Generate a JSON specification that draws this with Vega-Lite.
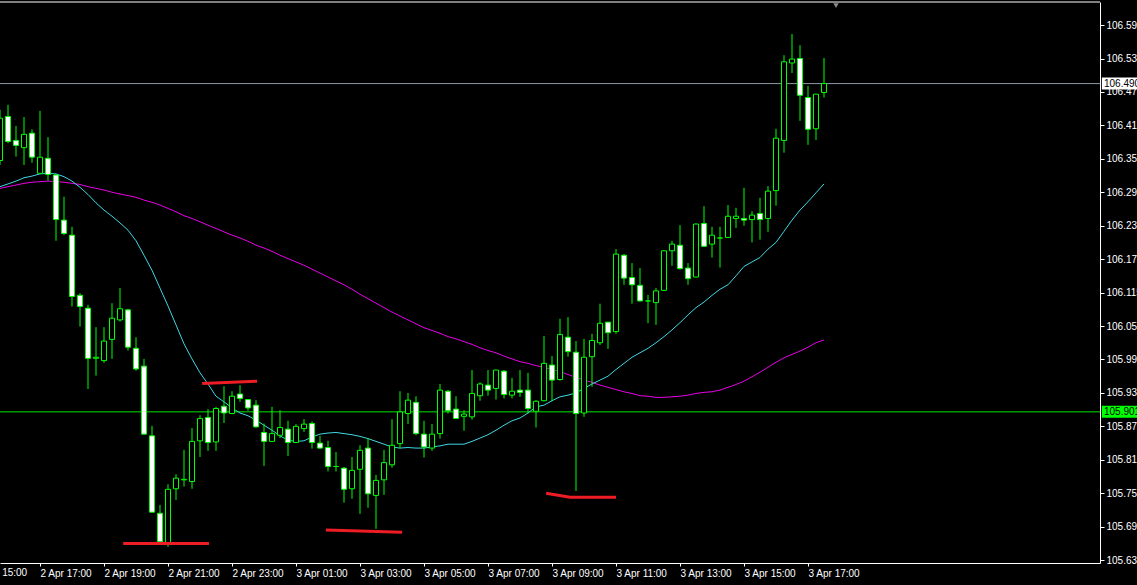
{
  "$schema": "https://vega.github.io/schema/vega-lite/v6.json",
  "width": 1100,
  "height": 561,
  "autosize": {"type": "none"},
  "padding": {"left": 0, "top": 2, "right": 37, "bottom": 22},
  "background": "#000000",
  "config": {"view": {"stroke": null}, "font": "Liberation Sans", "scale": {"continuousPadding": 0}},
  "resolve": {"axis": {"x": "independent", "y": "independent"}},
  "datasets": {
    "candles": [
      {"t":"2024-04-02T15:45","o":106.352,"h":106.443,"l":106.344,"c":106.428,"f":106.305,"s":106.302},
      {"t":"2024-04-02T16:00","o":106.431,"h":106.452,"l":106.383,"c":106.386,"f":106.310,"s":106.305},
      {"t":"2024-04-02T16:15","o":106.388,"h":106.414,"l":106.359,"c":106.379,"f":106.315,"s":106.308},
      {"t":"2024-04-02T16:30","o":106.375,"h":106.430,"l":106.344,"c":106.399,"f":106.321,"s":106.311},
      {"t":"2024-04-02T16:45","o":106.401,"h":106.408,"l":106.348,"c":106.358,"f":106.324,"s":106.313},
      {"t":"2024-04-02T17:00","o":106.329,"h":106.441,"l":106.329,"c":106.358,"f":106.328,"s":106.314},
      {"t":"2024-04-02T17:15","o":106.356,"h":106.394,"l":106.316,"c":106.327,"f":106.329,"s":106.315},
      {"t":"2024-04-02T17:30","o":106.326,"h":106.328,"l":106.208,"c":106.246,"f":106.328,"s":106.314},
      {"t":"2024-04-02T17:45","o":106.245,"h":106.287,"l":106.218,"c":106.221,"f":106.323,"s":106.313},
      {"t":"2024-04-02T18:00","o":106.218,"h":106.233,"l":106.090,"c":106.108,"f":106.315,"s":106.311},
      {"t":"2024-04-02T18:15","o":106.110,"h":106.114,"l":106.054,"c":106.090,"f":106.304,"s":106.309},
      {"t":"2024-04-02T18:30","o":106.087,"h":106.093,"l":105.942,"c":105.997,"f":106.291,"s":106.305},
      {"t":"2024-04-02T18:45","o":105.997,"h":106.053,"l":105.966,"c":105.999,"f":106.276,"s":106.302},
      {"t":"2024-04-02T19:00","o":105.993,"h":106.053,"l":105.989,"c":106.028,"f":106.263,"s":106.299},
      {"t":"2024-04-02T19:15","o":106.031,"h":106.096,"l":105.996,"c":106.069,"f":106.252,"s":106.295},
      {"t":"2024-04-02T19:30","o":106.066,"h":106.123,"l":106.063,"c":106.086,"f":106.240,"s":106.292},
      {"t":"2024-04-02T19:45","o":106.084,"h":106.086,"l":106.011,"c":106.017,"f":106.227,"s":106.289},
      {"t":"2024-04-02T20:00","o":106.015,"h":106.035,"l":105.975,"c":105.978,"f":106.208,"s":106.286},
      {"t":"2024-04-02T20:15","o":105.983,"h":105.996,"l":105.860,"c":105.861,"f":106.182,"s":106.281},
      {"t":"2024-04-02T20:30","o":105.858,"h":105.876,"l":105.720,"c":105.721,"f":106.155,"s":106.277},
      {"t":"2024-04-02T20:45","o":105.719,"h":105.734,"l":105.667,"c":105.668,"f":106.123,"s":106.272},
      {"t":"2024-04-02T21:00","o":105.666,"h":105.771,"l":105.659,"c":105.762,"f":106.091,"s":106.266},
      {"t":"2024-04-02T21:15","o":105.763,"h":105.789,"l":105.743,"c":105.782,"f":106.057,"s":106.260},
      {"t":"2024-04-02T21:30","o":105.779,"h":105.833,"l":105.767,"c":105.780,"f":106.023,"s":106.253},
      {"t":"2024-04-02T21:45","o":105.776,"h":105.872,"l":105.763,"c":105.848,"f":105.996,"s":106.248},
      {"t":"2024-04-02T22:00","o":105.849,"h":105.895,"l":105.820,"c":105.889,"f":105.971,"s":106.242},
      {"t":"2024-04-02T22:15","o":105.891,"h":105.906,"l":105.831,"c":105.846,"f":105.951,"s":106.236},
      {"t":"2024-04-02T22:30","o":105.847,"h":105.910,"l":105.831,"c":105.907,"f":105.929,"s":106.230},
      {"t":"2024-04-02T22:45","o":105.911,"h":105.947,"l":105.881,"c":105.899,"f":105.919,"s":106.224},
      {"t":"2024-04-02T23:00","o":105.898,"h":105.938,"l":105.897,"c":105.929,"f":105.908,"s":106.218},
      {"t":"2024-04-02T23:15","o":105.933,"h":105.949,"l":105.919,"c":105.925,"f":105.899,"s":106.213},
      {"t":"2024-04-02T23:30","o":105.923,"h":105.924,"l":105.903,"c":105.908,"f":105.894,"s":106.207},
      {"t":"2024-04-02T23:45","o":105.913,"h":105.922,"l":105.873,"c":105.874,"f":105.886,"s":106.200},
      {"t":"2024-04-03T00:00","o":105.864,"h":105.880,"l":105.804,"c":105.848,"f":105.877,"s":106.195},
      {"t":"2024-04-03T00:15","o":105.848,"h":105.910,"l":105.847,"c":105.862,"f":105.868,"s":106.189},
      {"t":"2024-04-03T00:30","o":105.859,"h":105.904,"l":105.854,"c":105.873,"f":105.858,"s":106.182},
      {"t":"2024-04-03T00:45","o":105.870,"h":105.885,"l":105.822,"c":105.846,"f":105.850,"s":106.176},
      {"t":"2024-04-03T01:00","o":105.846,"h":105.879,"l":105.845,"c":105.875,"f":105.848,"s":106.170},
      {"t":"2024-04-03T01:15","o":105.871,"h":105.888,"l":105.865,"c":105.879,"f":105.849,"s":106.164},
      {"t":"2024-04-03T01:30","o":105.880,"h":105.884,"l":105.835,"c":105.846,"f":105.856,"s":106.157},
      {"t":"2024-04-03T01:45","o":105.845,"h":105.858,"l":105.835,"c":105.836,"f":105.861,"s":106.150},
      {"t":"2024-04-03T02:00","o":105.837,"h":105.849,"l":105.794,"c":105.803,"f":105.863,"s":106.143},
      {"t":"2024-04-03T02:15","o":105.803,"h":105.829,"l":105.794,"c":105.803,"f":105.864,"s":106.136},
      {"t":"2024-04-03T02:30","o":105.800,"h":105.802,"l":105.738,"c":105.762,"f":105.862,"s":106.129},
      {"t":"2024-04-03T02:45","o":105.763,"h":105.820,"l":105.745,"c":105.796,"f":105.860,"s":106.121},
      {"t":"2024-04-03T03:00","o":105.798,"h":105.841,"l":105.718,"c":105.832,"f":105.857,"s":106.112},
      {"t":"2024-04-03T03:15","o":105.836,"h":105.854,"l":105.729,"c":105.754,"f":105.853,"s":106.104},
      {"t":"2024-04-03T03:30","o":105.751,"h":105.788,"l":105.691,"c":105.778,"f":105.848,"s":106.096},
      {"t":"2024-04-03T03:45","o":105.779,"h":105.833,"l":105.752,"c":105.810,"f":105.843,"s":106.088},
      {"t":"2024-04-03T04:00","o":105.806,"h":105.888,"l":105.801,"c":105.841,"f":105.838,"s":106.080},
      {"t":"2024-04-03T04:15","o":105.844,"h":105.938,"l":105.836,"c":105.901,"f":105.836,"s":106.073},
      {"t":"2024-04-03T04:30","o":105.898,"h":105.935,"l":105.879,"c":105.922,"f":105.837,"s":106.066},
      {"t":"2024-04-03T04:45","o":105.918,"h":105.929,"l":105.859,"c":105.862,"f":105.836,"s":106.059},
      {"t":"2024-04-03T05:00","o":105.861,"h":105.885,"l":105.819,"c":105.838,"f":105.836,"s":106.052},
      {"t":"2024-04-03T05:15","o":105.836,"h":105.879,"l":105.831,"c":105.861,"f":105.838,"s":106.047},
      {"t":"2024-04-03T05:30","o":105.862,"h":105.951,"l":105.853,"c":105.940,"f":105.840,"s":106.042},
      {"t":"2024-04-03T05:45","o":105.938,"h":105.940,"l":105.898,"c":105.903,"f":105.843,"s":106.036},
      {"t":"2024-04-03T06:00","o":105.906,"h":105.929,"l":105.888,"c":105.889,"f":105.843,"s":106.032},
      {"t":"2024-04-03T06:15","o":105.893,"h":105.904,"l":105.867,"c":105.897,"f":105.843,"s":106.027},
      {"t":"2024-04-03T06:30","o":105.892,"h":105.976,"l":105.887,"c":105.934,"f":105.848,"s":106.022},
      {"t":"2024-04-03T06:45","o":105.930,"h":105.954,"l":105.921,"c":105.951,"f":105.854,"s":106.016},
      {"t":"2024-04-03T07:00","o":105.949,"h":105.976,"l":105.930,"c":105.940,"f":105.860,"s":106.011},
      {"t":"2024-04-03T07:15","o":105.943,"h":105.976,"l":105.923,"c":105.976,"f":105.868,"s":106.007},
      {"t":"2024-04-03T07:30","o":105.974,"h":105.976,"l":105.925,"c":105.932,"f":105.877,"s":106.001},
      {"t":"2024-04-03T07:45","o":105.931,"h":105.962,"l":105.925,"c":105.938,"f":105.885,"s":105.996},
      {"t":"2024-04-03T08:00","o":105.940,"h":105.976,"l":105.928,"c":105.936,"f":105.890,"s":105.991},
      {"t":"2024-04-03T08:15","o":105.940,"h":105.971,"l":105.898,"c":105.907,"f":105.899,"s":105.988},
      {"t":"2024-04-03T08:30","o":105.902,"h":105.922,"l":105.873,"c":105.920,"f":105.910,"s":105.984},
      {"t":"2024-04-03T08:45","o":105.921,"h":106.037,"l":105.920,"c":105.988,"f":105.913,"s":105.981},
      {"t":"2024-04-03T09:00","o":105.985,"h":106.001,"l":105.920,"c":105.958,"f":105.921,"s":105.977},
      {"t":"2024-04-03T09:15","o":105.959,"h":106.068,"l":105.957,"c":106.040,"f":105.928,"s":105.973},
      {"t":"2024-04-03T09:30","o":106.035,"h":106.071,"l":106.000,"c":106.009,"f":105.931,"s":105.968},
      {"t":"2024-04-03T09:45","o":106.008,"h":106.028,"l":105.759,"c":105.898,"f":105.935,"s":105.963},
      {"t":"2024-04-03T10:00","o":105.899,"h":106.032,"l":105.892,"c":105.999,"f":105.943,"s":105.958},
      {"t":"2024-04-03T10:15","o":106.000,"h":106.041,"l":105.946,"c":106.029,"f":105.951,"s":105.954},
      {"t":"2024-04-03T10:30","o":106.025,"h":106.095,"l":106.021,"c":106.060,"f":105.958,"s":105.949},
      {"t":"2024-04-03T10:45","o":106.062,"h":106.062,"l":106.014,"c":106.043,"f":105.965,"s":105.945},
      {"t":"2024-04-03T11:00","o":106.045,"h":106.193,"l":106.041,"c":106.184,"f":105.977,"s":105.941},
      {"t":"2024-04-03T11:15","o":106.182,"h":106.184,"l":106.129,"c":106.141,"f":105.988,"s":105.937},
      {"t":"2024-04-03T11:30","o":106.142,"h":106.168,"l":106.095,"c":106.129,"f":105.999,"s":105.934},
      {"t":"2024-04-03T11:45","o":106.128,"h":106.159,"l":106.099,"c":106.100,"f":106.007,"s":105.930},
      {"t":"2024-04-03T12:00","o":106.100,"h":106.111,"l":106.060,"c":106.100,"f":106.015,"s":105.929},
      {"t":"2024-04-03T12:15","o":106.097,"h":106.123,"l":106.057,"c":106.118,"f":106.025,"s":105.927},
      {"t":"2024-04-03T12:30","o":106.119,"h":106.191,"l":106.118,"c":106.190,"f":106.036,"s":105.927},
      {"t":"2024-04-03T12:45","o":106.190,"h":106.208,"l":106.163,"c":106.202,"f":106.048,"s":105.928},
      {"t":"2024-04-03T13:00","o":106.200,"h":106.236,"l":106.156,"c":106.158,"f":106.061,"s":105.929},
      {"t":"2024-04-03T13:15","o":106.159,"h":106.168,"l":106.129,"c":106.140,"f":106.075,"s":105.931},
      {"t":"2024-04-03T13:30","o":106.143,"h":106.239,"l":106.142,"c":106.238,"f":106.088,"s":105.934},
      {"t":"2024-04-03T13:45","o":106.239,"h":106.270,"l":106.197,"c":106.198,"f":106.098,"s":105.936},
      {"t":"2024-04-03T14:00","o":106.202,"h":106.233,"l":106.178,"c":106.218,"f":106.110,"s":105.937},
      {"t":"2024-04-03T14:15","o":106.213,"h":106.233,"l":106.160,"c":106.213,"f":106.121,"s":105.940},
      {"t":"2024-04-03T14:30","o":106.214,"h":106.272,"l":106.213,"c":106.252,"f":106.129,"s":105.945},
      {"t":"2024-04-03T14:45","o":106.248,"h":106.267,"l":106.231,"c":106.252,"f":106.145,"s":105.950},
      {"t":"2024-04-03T15:00","o":106.248,"h":106.303,"l":106.235,"c":106.245,"f":106.162,"s":105.956},
      {"t":"2024-04-03T15:15","o":106.246,"h":106.261,"l":106.205,"c":106.254,"f":106.170,"s":105.964},
      {"t":"2024-04-03T15:30","o":106.257,"h":106.285,"l":106.210,"c":106.246,"f":106.178,"s":105.972},
      {"t":"2024-04-03T15:45","o":106.248,"h":106.306,"l":106.224,"c":106.297,"f":106.193,"s":105.981},
      {"t":"2024-04-03T16:00","o":106.298,"h":106.409,"l":106.271,"c":106.392,"f":106.205,"s":105.990},
      {"t":"2024-04-03T16:15","o":106.388,"h":106.541,"l":106.366,"c":106.529,"f":106.225,"s":105.998},
      {"t":"2024-04-03T16:30","o":106.527,"h":106.579,"l":106.509,"c":106.534,"f":106.245,"s":106.004},
      {"t":"2024-04-03T16:45","o":106.535,"h":106.559,"l":106.423,"c":106.469,"f":106.263,"s":106.010},
      {"t":"2024-04-03T17:00","o":106.465,"h":106.486,"l":106.380,"c":106.408,"f":106.278,"s":106.017},
      {"t":"2024-04-03T17:15","o":106.409,"h":106.471,"l":106.389,"c":106.471,"f":106.294,"s":106.025},
      {"t":"2024-04-03T17:30","o":106.474,"h":106.536,"l":106.465,"c":106.490,"f":106.310,"s":106.030}
    ],
    "support": [
      {"g":1,"t":"2024-04-02T22:04","p":105.952},
      {"g":1,"t":"2024-04-02T23:47","p":105.956},
      {"g":2,"t":"2024-04-02T19:36","p":105.665},
      {"g":2,"t":"2024-04-02T22:17","p":105.665},
      {"g":3,"t":"2024-04-03T01:56","p":105.689},
      {"g":3,"t":"2024-04-03T04:19","p":105.685},
      {"g":4,"t":"2024-04-03T08:49","p":105.755},
      {"g":4,"t":"2024-04-03T09:34","p":105.748},
      {"g":4,"t":"2024-04-03T11:00","p":105.748}
    ],
    "levels": [
      {"p":106.490,"label":"106.490","kind":"bid"},
      {"p":105.901,"label":"105.901","kind":"alert"}
    ]
  },
  "layer": [
    {
      "data": {"name": "levels"},
      "mark": {"type": "rule", "strokeWidth": 1},
      "encoding": {
        "y": {
          "field": "p", "type": "quantitative",
          "scale": {"domain": [105.6298, 106.6364], "zero": false, "nice": false, "padding": 0},
          "axis": {
            "orient": "right", "title": null, "grid": false,
            "values": [105.635,105.695,105.755,105.815,105.875,105.935,105.995,106.055,106.115,106.175,106.235,106.295,106.355,106.415,106.475,106.535,106.595],
            "format": ".3f", "domainColor": "#ffffff", "tickColor": "#ffffff", "tickSize": 4,
            "labelColor": "#ffffff", "labelFontSize": 10, "labelPadding": 2, "labelFont": "Liberation Sans"
          }
        },
        "color": {"condition": {"test": "datum.kind === 'bid'", "value": "#8f99a8"}, "value": "#00e600"}
      }
    },
    {
      "data": {"name": "candles"},
      "mark": {"type": "line", "color": "#e800e8", "strokeWidth": 1},
      "encoding": {
        "x": {"field": "t", "type": "temporal", "axis": null},
        "y": {"field": "s", "type": "quantitative", "axis": null}
      }
    },
    {
      "data": {"name": "candles"},
      "mark": {"type": "line", "color": "#3fd8e4", "strokeWidth": 1},
      "encoding": {
        "x": {"field": "t", "type": "temporal", "axis": null},
        "y": {"field": "f", "type": "quantitative", "axis": null}
      }
    },
    {
      "data": {"name": "candles"},
      "mark": {"type": "rule", "color": "#00ff00", "strokeWidth": 1},
      "encoding": {
        "x": {"field": "t", "type": "temporal", "axis": null},
        "y": {"field": "l", "type": "quantitative", "axis": null},
        "y2": {"field": "h"}
      }
    },
    {
      "data": {"name": "candles"},
      "mark": {"type": "bar", "width": 5, "stroke": "#00ff00", "strokeWidth": 1},
      "encoding": {
        "x": {
          "field": "t", "type": "temporal",
          "scale": {"domain": [
            {"year": 2024, "month": 4, "date": 2, "hours": 15, "minutes": 45},
            {"year": 2024, "month": 4, "date": 4, "hours": 2, "minutes": 7, "seconds": 30}
          ], "padding": 0},
          "axis": {
            "title": null, "grid": false,
            "values": [
              {"year": 2024, "month": 4, "date": 2, "hours": 17},
              {"year": 2024, "month": 4, "date": 2, "hours": 19},
              {"year": 2024, "month": 4, "date": 2, "hours": 21},
              {"year": 2024, "month": 4, "date": 2, "hours": 23},
              {"year": 2024, "month": 4, "date": 3, "hours": 1},
              {"year": 2024, "month": 4, "date": 3, "hours": 3},
              {"year": 2024, "month": 4, "date": 3, "hours": 5},
              {"year": 2024, "month": 4, "date": 3, "hours": 7},
              {"year": 2024, "month": 4, "date": 3, "hours": 9},
              {"year": 2024, "month": 4, "date": 3, "hours": 11},
              {"year": 2024, "month": 4, "date": 3, "hours": 13},
              {"year": 2024, "month": 4, "date": 3, "hours": 15},
              {"year": 2024, "month": 4, "date": 3, "hours": 17}
            ],
            "format": "%-d %b %H:%M", "labelAlign": "left", "labelFlush": false, "labelOverlap": false,
            "domainColor": "#ffffff", "tickColor": "#ffffff", "tickSize": 3,
            "labelColor": "#ffffff", "labelFontSize": 10, "labelPadding": 2, "labelFont": "Liberation Sans"
          }
        },
        "y": {"field": "o", "type": "quantitative", "axis": null},
        "y2": {"field": "c"},
        "fill": {"condition": {"test": "datum.c < datum.o", "value": "#ffffff"}, "value": "#000000"}
      }
    },
    {
      "data": {"name": "support"},
      "mark": {"type": "line", "color": "#ee1c24", "strokeWidth": 3, "strokeCap": "butt"},
      "encoding": {
        "x": {"field": "t", "type": "temporal", "axis": null},
        "y": {"field": "p", "type": "quantitative", "axis": null},
        "detail": {"field": "g", "type": "nominal"}
      }
    },
    {
      "data": {"values": [{}]},
      "mark": {"type": "rule", "color": "#ffffff", "strokeWidth": 1},
      "encoding": {"y": {"datum": 106.6364, "type": "quantitative", "axis": null}}
    },
    {
      "data": {"values": [{}]},
      "mark": {"type": "point", "shape": "triangle-down", "size": 30, "filled": true, "color": "#8a8a8a", "opacity": 1},
      "encoding": {
        "x": {"datum": {"year": 2024, "month": 4, "date": 3, "hours": 17, "minutes": 52, "seconds": 30}, "type": "temporal", "axis": null},
        "y": {"datum": 106.630, "type": "quantitative", "axis": null}
      }
    },
    {
      "data": {"name": "levels"},
      "mark": {"type": "bar", "size": 12},
      "encoding": {
        "x": {"datum": {"year": 2024, "month": 4, "date": 4, "hours": 2, "minutes": 11}, "type": "temporal", "axis": null},
        "x2": {"datum": {"year": 2024, "month": 4, "date": 4, "hours": 3, "minutes": 30}},
        "y": {"field": "p", "type": "quantitative", "axis": null},
        "fill": {"condition": {"test": "datum.kind === 'bid'", "value": "#ffffff"}, "value": "#00ff00"}
      }
    },
    {
      "data": {"name": "levels"},
      "mark": {"type": "text", "align": "left", "baseline": "middle", "color": "#000000", "fontSize": 10, "font": "Liberation Sans"},
      "encoding": {
        "x": {"datum": {"year": 2024, "month": 4, "date": 4, "hours": 2, "minutes": 15}, "type": "temporal", "axis": null},
        "y": {"field": "p", "type": "quantitative", "axis": null},
        "text": {"field": "label"}
      }
    },
    {
      "data": {"values": [{"t": "2024-04-02T15:00", "label": "2 Apr 15:00"}]},
      "mark": {"type": "text", "align": "left", "baseline": "top", "dy": 5, "color": "#ffffff", "fontSize": 10, "font": "Liberation Sans"},
      "encoding": {
        "x": {"field": "t", "type": "temporal", "axis": null},
        "y": {"datum": 105.6298, "type": "quantitative", "axis": null},
        "text": {"field": "label"}
      }
    }
  ]
}
